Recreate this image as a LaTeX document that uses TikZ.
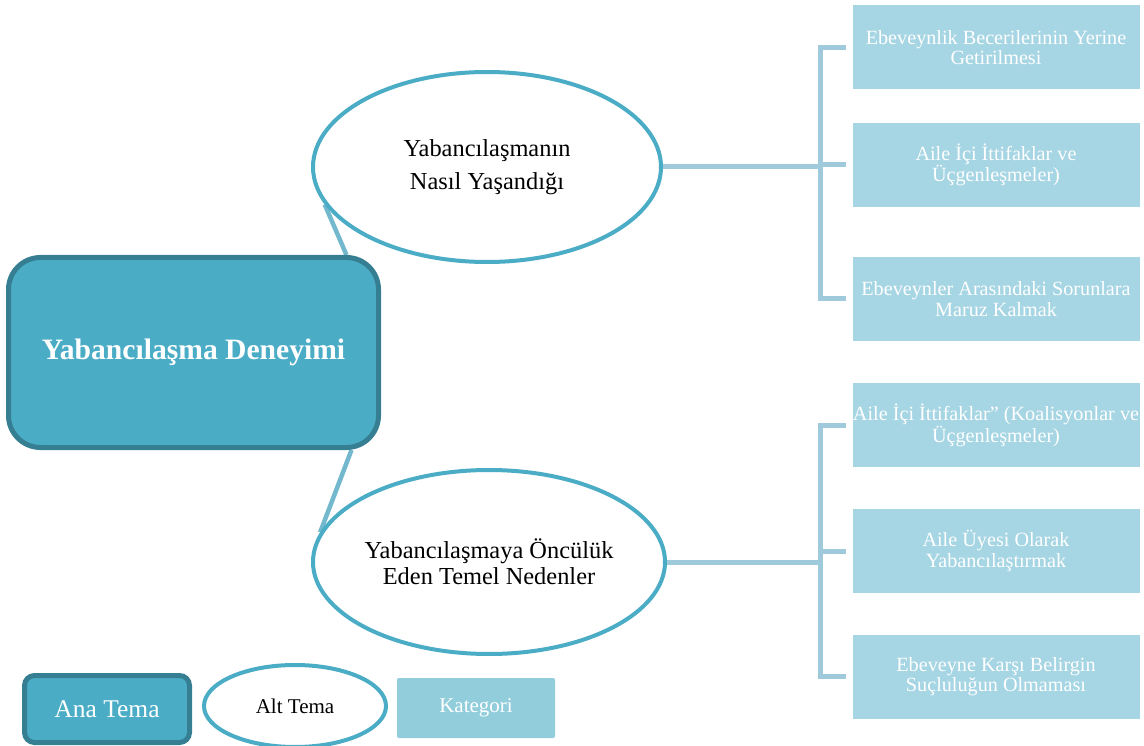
\documentclass[tikz,border=0pt]{standalone}
\usepackage{fontspec}
\setmainfont{Liberation Serif}
\usetikzlibrary{shapes.geometric,calc}
\definecolor{mainfill}{HTML}{4BACC6}
\definecolor{maindraw}{HTML}{367F93}
\definecolor{ellline}{HTML}{4BACC6}
\definecolor{linkcol}{HTML}{74B8CE}
\definecolor{brkcol}{HTML}{9ECADB}
\definecolor{catfill}{HTML}{A6D5E3}
\definecolor{legcat}{HTML}{92CDDC}
\pgfdeclarelayer{bg}
\pgfsetlayers{bg,main}
\begin{document}
\begin{tikzpicture}[x=1pt,y=-1pt,
  mainbox/.style={rectangle, draw=maindraw, fill=mainfill, line width=5pt, rounded corners=32pt, text=white, inner sep=0pt},
  subell/.style={ellipse, draw=ellline, line width=4pt, fill=white, inner xsep=-14pt, inner ysep=0pt, align=center, text=black},
  catbox/.style={rectangle, fill=catfill, text=white, minimum width=287pt, minimum height=84pt, inner sep=0pt, align=center, font=\fontsize{20.2}{20.5}\selectfont},
  linkline/.style={draw=linkcol, line width=4.5pt},
  brkline/.style={draw=brkcol, line width=5pt}
]
\useasboundingbox (0,0) rectangle (1144,746);

% main theme
\node[mainbox, minimum width=370pt, minimum height=190pt, font=\bfseries\fontsize{29.6}{34}\selectfont] (main) at (193.5,352.5) {Yabancılaşma Deneyimi};

% sub themes
\node[subell, minimum width=348pt, minimum height=190pt, font=\fontsize{24.4}{32.5}\selectfont] (u) at (487,167) {Yabancılaşmanın\\Nasıl Yaşandığı};
\node[subell, minimum width=352pt, minimum height=184pt, font=\fontsize{24.4}{26}\selectfont] (l) at (489,562) {Yabancılaşmaya Öncülük\\Eden Temel Nedenler};

% categories
\node[catbox] (c1) at (996,47.4) {Ebeveynlik Becerilerinin Yerine\\Getirilmesi};
\node[catbox] (c2) at (996,165) {Aile İçi İttifaklar ve\\Üçgenleşmeler)};
\node[catbox] (c3) at (996,299) {Ebeveynler Arasındaki Sorunlara\\Maruz Kalmak};
\node[catbox] (c4) at (996,425) {Aile İçi İttifaklar” (Koalisyonlar ve\\Üçgenleşmeler)};
\node[catbox] (c5) at (996,551) {Aile Üyesi Olarak\\Yabancılaştırmak};
\node[catbox] (c6) at (996,676.5) {Ebeveyne Karşı Belirgin\\Suçluluğun Olmaması};

\coordinate (bu) at ([xshift=-31.5pt]c2.west);
\coordinate (bl) at ([xshift=-31.5pt]c5.west);

% connectors
\begin{pgfonlayer}{bg}
\draw[linkline] ([xshift=-34.5pt]main.north east) -- (u.193);
\draw[linkline] ([xshift=-29.5pt]main.south east) -- (l.170);
\end{pgfonlayer}

\draw[brkline] ([xshift=-6pt]c1.west) -- ([xshift=-31.5pt]c1.west) -- ([xshift=-31.5pt]c3.west) -- ([xshift=-6pt]c3.west);
\draw[brkline] (bu) -- ([xshift=-6pt]c2.west);
\draw[brkline] (u.east) -- (u.east -| bu);

\draw[brkline] ([xshift=-6pt]c4.west) -- ([xshift=-31.5pt]c4.west) -- ([xshift=-31.5pt]c6.west) -- ([xshift=-6pt]c6.west);
\draw[brkline] (bl) -- ([xshift=-6pt]c5.west);
\draw[brkline] (l.east) -- (l.east -| bl);

% legend
\node[mainbox, rounded corners=10pt, minimum width=165pt, minimum height=67pt, font=\fontsize{25.5}{30}\selectfont] (lg1) at (107,709) {Ana Tema};
\node[subell, minimum width=182pt, minimum height=82pt, font=\fontsize{21}{25}\selectfont] (lg2) at (295,706) {Alt Tema};
\node[rectangle, fill=legcat, rounded corners=2pt, minimum width=158pt, minimum height=60pt, text=white, font=\fontsize{21}{25}\selectfont] (lg3) at (476,708) {Kategori};
\end{tikzpicture}
\end{document}
